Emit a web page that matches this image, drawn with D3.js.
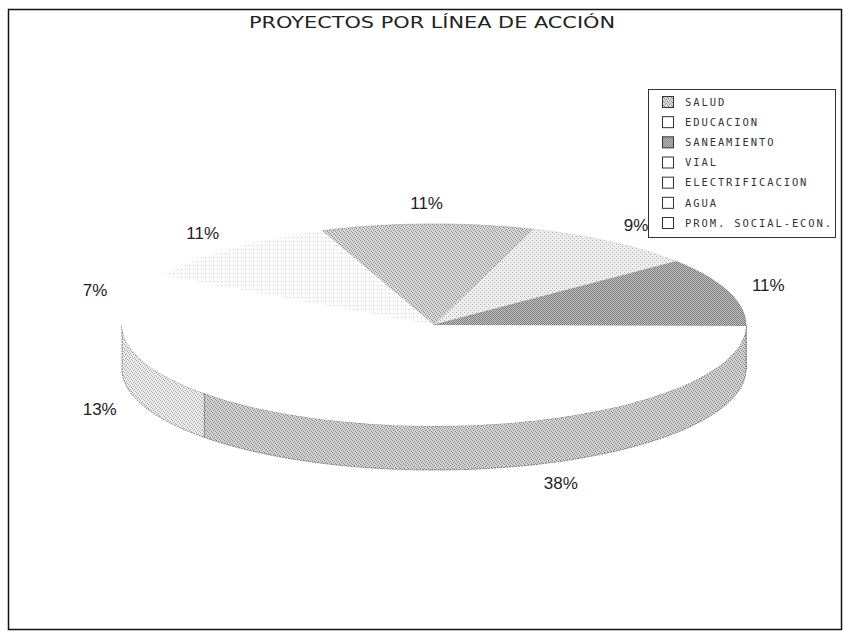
<!DOCTYPE html>
<html>
<head>
<meta charset="utf-8">
<script src="https://cdn.jsdelivr.net/npm/d3@7"></script>
<style>
  html, body { margin: 0; padding: 0; background: #fff; }
  svg { display: block; }
</style>
</head>
<body>
<svg id="CHART" width="844" height="631"></svg>
<script>
// datos del grafico
const categories = ["SALUD", "EDUCACION", "SANEAMIENTO", "VIAL", "ELECTRIFICACION", "AGUA", "PROM. SOCIAL-ECON."];
const values = [11, 9, 11, 38, 13, 7, 11];
const pctLabels = ["11%", "9%", "11%", "38%", "13%", "7%", "11%"];
const chartTitle = "PROYECTOS POR LÍNEA DE ACCIÓN";

var width = 844, height = 631;
var cx = 434, cy = 325, rx = 312, ry = 101, depth = 44;
var startAngle = -21 * Math.PI / 180;

var svg = d3.select("#CHART");
var defs = svg.append("defs");

// texturas punteadas (imitan el escaneo)
var makeDots = function (id, bg, dot, dots) {
  var p = defs.append("pattern")
    .attr("id", id)
    .attr("width", 4).attr("height", 4)
    .attr("patternUnits", "userSpaceOnUse");
  p.append("rect").attr("width", 4).attr("height", 4).attr("fill", bg);
  dots.forEach(function (d) {
    p.append("rect").attr("x", d[0]).attr("y", d[1]).attr("width", 1).attr("height", 1).attr("fill", dot);
  });
  return "url(#" + id + ")";
};
var dense = [[0, 0], [2, 0], [1, 1], [3, 1], [0, 2], [2, 2], [1, 3], [3, 3]];
var mid = [[0, 0], [2, 1], [1, 2], [3, 3]];
var sparse = [[0, 0], [2, 2]];

var faceFill = [
  makeDots("salud", "#d8d8d8", "#8c8c8c", mid),
  makeDots("educ", "#eeeeee", "#acacac", sparse),
  makeDots("sane", "#c4c4c4", "#7c7c7c", dense),
  "#ffffff",
  "#ffffff",
  "#ffffff",
  makeDots("prom", "#fcfcfc", "#c8c8c8", [[1, 1]])
];
var sideFill = [
  "#b0b0b0", "#cfcfcf", "#a0a0a0",
  makeDots("vialSide", "#d2d2d2", "#8a8a8a", mid),
  makeDots("elecSide", "#ececec", "#a8a8a8", mid),
  "#f0f0f0", "#f0f0f0"
];
var faceStroke = ["#8a8a8a", "#c8c8c8", "#7a7a7a", "none", "none", "none", "none"];

var pie = d3.pie().sort(null).startAngle(startAngle).endAngle(startAngle + 2 * Math.PI);
var slices = pie(values);

var pt = function (a, dy) {
  return [cx + rx * Math.sin(a), cy - ry * Math.cos(a) + (dy || 0)];
};
var arcPts = function (a0, a1, dy) {
  var n = Math.max(2, Math.ceil(Math.abs(a1 - a0) / 0.02));
  return d3.range(n + 1).map(function (i) {
    return pt(a0 + (a1 - a0) * i / n, dy);
  });
};
var line = d3.line();

// borde exterior
svg.append("rect")
  .attr("x", 8.5).attr("y", 9.5)
  .attr("width", 833).attr("height", 620)
  .attr("fill", "none").attr("stroke", "#111").attr("stroke-width", 1.5);

// titulo
svg.append("text")
  .attr("x", 432).attr("y", 28)
  .attr("text-anchor", "middle")
  .attr("textLength", 366)
  .attr("lengthAdjust", "spacingAndGlyphs")
  .style("font-family", "'DejaVu Sans', Verdana, sans-serif")
  .style("font-size", "16px")
  .attr("fill", "#222")
  .text(chartTitle);

var gPie = svg.append("g");

// paredes frontales
slices.forEach(function (d, i) {
  var lo = Math.max(d.startAngle, Math.PI / 2);
  var hi = Math.min(d.endAngle, 3 * Math.PI / 2);
  if (hi <= lo) return;
  var pts = arcPts(lo, hi, 0).concat(arcPts(hi, lo, depth));
  gPie.append("path")
    .attr("d", line(pts) + "Z")
    .attr("fill", sideFill[i])
    .attr("stroke", "#666")
    .attr("stroke-width", 0.8)
    .attr("stroke-dasharray", "2,1");
});

// caras superiores
slices.forEach(function (d, i) {
  var pts = [[cx, cy]].concat(arcPts(d.startAngle, d.endAngle, 0));
  gPie.append("path")
    .attr("d", line(pts) + "Z")
    .attr("fill", faceFill[i])
    .attr("stroke", faceStroke[i])
    .attr("stroke-width", 0.7)
    .attr("stroke-dasharray", "2,1");
});

// etiquetas de porcentaje
slices.forEach(function (d, i) {
  var m = (d.startAngle + d.endAngle) / 2;
  var x = cx + (rx + 42) * Math.sin(m);
  var y = cy - (ry + 21) * Math.cos(m) + (Math.cos(m) < 0 ? depth : 0);
  gPie.append("text")
    .attr("x", x).attr("y", y)
    .attr("dy", "0.35em")
    .attr("text-anchor", "middle")
    .style("font-family", "'Liberation Sans', Arial, sans-serif")
    .style("font-size", "17px")
    .attr("fill", "#222")
    .text(pctLabels[i]);
});

// leyenda
var legend = svg.append("g");
legend.append("rect")
  .attr("x", 648.5).attr("y", 89.5)
  .attr("width", 187).attr("height", 148)
  .attr("fill", "#fff").attr("stroke", "#333").attr("stroke-width", 1);

var legendFill = [faceFill[0], "#ffffff", faceFill[2], "#ffffff", "#ffffff", "#ffffff", "#ffffff"];
var ly = d3.scalePoint().domain(categories).range([102, 223]);

var item = legend.selectAll("g.item")
  .data(categories)
  .join("g")
  .attr("class", "item")
  .attr("transform", function (d) { return "translate(0," + ly(d) + ")"; });

item.append("rect")
  .attr("x", 662.5).attr("y", -5.5)
  .attr("width", 11).attr("height", 11)
  .attr("fill", function (d, i) { return legendFill[i]; })
  .attr("stroke", "#333").attr("stroke-width", 1);

item.append("text")
  .attr("x", 685).attr("y", 0)
  .attr("dy", "0.35em")
  .style("font-family", "'DejaVu Sans Mono', monospace")
  .style("font-size", "10.5px")
  .style("letter-spacing", "1.9px")
  .attr("fill", "#333")
  .text(function (d) { return d; });
</script>
</body>
</html>
